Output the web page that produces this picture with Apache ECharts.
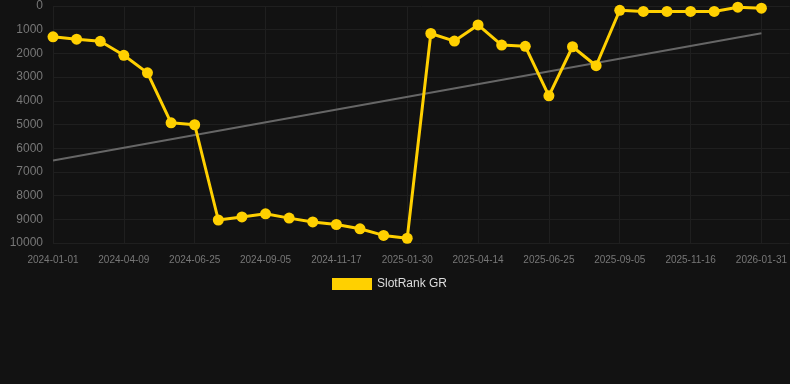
<!DOCTYPE html>
<html>
<head>
<meta charset="utf-8">
<script src="https://cdn.jsdelivr.net/npm/echarts@6/dist/echarts.min.js"></script>
<style>
  html, body { margin: 0; padding: 0; background: #121212; }
  #chart { width: 790px; height: 384px; }
</style>
</head>
<body>
<div id="chart"></div>
<script>
const dates = [
  '2024-01-01', '2024-01-30', '2024-03-05', '2024-04-09', '2024-05-04', '2024-05-30',
  '2024-06-25', '2024-07-19', '2024-08-12', '2024-09-05', '2024-09-29', '2024-10-23',
  '2024-11-17', '2024-12-11', '2025-01-05', '2025-01-30', '2025-02-23', '2025-03-20',
  '2025-04-14', '2025-05-08', '2025-06-01', '2025-06-25', '2025-07-19', '2025-08-12',
  '2025-09-05', '2025-09-29', '2025-10-23', '2025-11-16', '2025-12-12', '2026-01-06',
  '2026-01-31'
];
const ranks = [
  1300, 1400, 1490, 2080, 2820, 4930, 5010, 9030, 8900, 8770, 8950, 9110,
  9220, 9400, 9680, 9800, 1160, 1480, 800, 1650, 1700, 3790, 1720, 2520,
  180, 230, 230, 230, 230, 50, 90
];
// trend line end points (first and last date)
const trendStart = 6520;
const trendEnd = 1150;

const chart = echarts.init(document.getElementById('chart'));

const option = {
  backgroundColor: '#121212',
  animation: false,
  grid: { left: 53, right: 0, top: 6, bottom: 141 },
  legend: {
    top: 273,
    left: 327,
    itemWidth: 40,
    itemHeight: 12,
    data: [{ name: 'SlotRank GR', icon: 'rect' }],
    textStyle: { color: '#dddddd', fontSize: 12, fontFamily: 'Liberation Sans' },
  },
  xAxis: {
    type: 'value',
    min: 0,
    max: 31.2,
    interval: 3,
    axisLine: { show: false },
    axisTick: { show: false },
    axisLabel: {
      color: '#777777',
      fontSize: 10,
      fontFamily: 'Liberation Sans',
      margin: 12,
      showMaxLabel: false,
      formatter: (v) => (Number.isInteger(v) && dates[v]) ? dates[v] : '',
    },
    splitLine: { show: true, lineStyle: { color: '#1f1f1f', width: 1 } },
  },
  yAxis: {
    type: 'value',
    inverse: true,
    min: 0,
    max: 10000,
    interval: 1000,
    axisLine: { show: false },
    axisTick: { show: false },
    axisLabel: {
      color: '#777777',
      fontSize: 12,
      fontFamily: 'Liberation Sans',
      margin: 10,
      formatter: (v) => String(v),
    },
    splitLine: { show: true, lineStyle: { color: '#1f1f1f', width: 1 } },
  },
  series: [
    {
      name: 'trend',
      type: 'line',
      silent: true,
      symbol: 'none',
      lineStyle: { color: '#666666', width: 2 },
      data: [[0, trendStart], [dates.length - 1, trendEnd]],
      z: 1,
    },
    {
      name: 'SlotRank GR',
      type: 'line',
      symbol: 'circle',
      symbolSize: 11,
      itemStyle: { color: '#ffd000' },
      lineStyle: { color: '#ffd000', width: 3 },
      data: ranks.map((v, i) => [i, v]),
      z: 2,
    },
  ],
};
chart.setOption(option);
</script>
</body>
</html>
